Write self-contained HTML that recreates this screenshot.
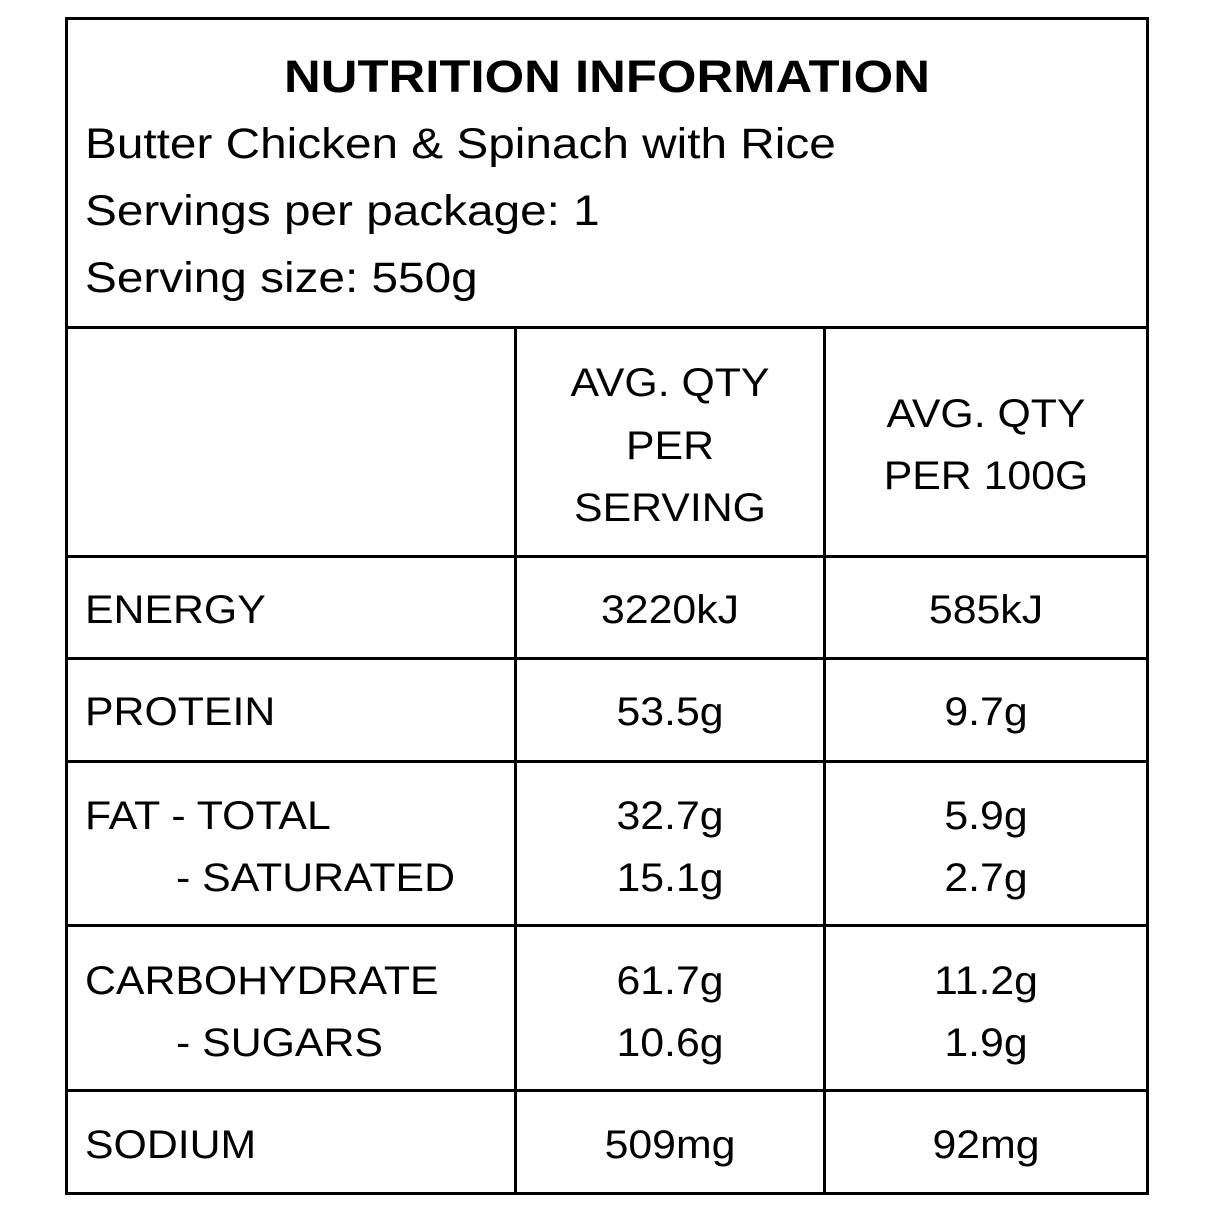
<!DOCTYPE html>
<html><head><style>
body{margin:0;width:1214px;height:1214px;background:#fff;position:relative;font-family:"Liberation Sans",sans-serif;color:#000;overflow:hidden}
.l{position:absolute;background:#000}
.t{position:absolute;white-space:nowrap;font-size:40px;line-height:1;transform-origin:0 0;transform:scaleX(1.07)}
.c{transform-origin:50% 0;transform:translateX(-50%) scaleX(1.07)}
.h{transform:scaleX(1.11)}
</style></head><body>
<div class="l" style="left:65px;top:17px;width:1084px;height:3px"></div>
<div class="l" style="left:65px;top:1192px;width:1084px;height:3px"></div>
<div class="l" style="left:65px;top:17px;width:3px;height:1178px"></div>
<div class="l" style="left:1146px;top:17px;width:3px;height:1178px"></div>
<div class="l" style="left:65px;top:326px;width:1084px;height:3px"></div>
<div class="l" style="left:65px;top:555px;width:1084px;height:3px"></div>
<div class="l" style="left:65px;top:657px;width:1084px;height:3px"></div>
<div class="l" style="left:65px;top:760px;width:1084px;height:3px"></div>
<div class="l" style="left:65px;top:924px;width:1084px;height:3px"></div>
<div class="l" style="left:65px;top:1089px;width:1084px;height:3px"></div>
<div class="l" style="left:514px;top:326px;width:3px;height:869px"></div>
<div class="l" style="left:823px;top:326px;width:3px;height:869px"></div>

<div class="t c" style="left:607px;top:54px;font-size:45px;font-weight:bold;transform:translateX(-50%) scaleX(1.13)">NUTRITION INFORMATION</div>
<div class="t h" style="left:85px;top:123px;font-size:43px">Butter Chicken &amp; Spinach with Rice</div>
<div class="t h" style="left:85px;top:190px;font-size:43px">Servings per package: 1</div>
<div class="t h" style="left:85px;top:257px;font-size:43px">Serving size: 550g</div>

<div class="t c" style="left:670px;top:363px">AVG. QTY</div>
<div class="t c" style="left:670px;top:426px">PER</div>
<div class="t c" style="left:670px;top:488px">SERVING</div>
<div class="t c" style="left:986px;top:394px">AVG. QTY</div>
<div class="t c" style="left:986px;top:456px">PER 100G</div>

<div class="t" style="left:85px;top:590px">ENERGY</div>
<div class="t c" style="left:670px;top:590px">3220kJ</div>
<div class="t c" style="left:986px;top:590px">585kJ</div>

<div class="t" style="left:85px;top:692px">PROTEIN</div>
<div class="t c" style="left:670px;top:692px">53.5g</div>
<div class="t c" style="left:986px;top:692px">9.7g</div>

<div class="t" style="left:85px;top:796px">FAT - TOTAL</div>
<div class="t" style="left:176px;top:858px">- SATURATED</div>
<div class="t c" style="left:670px;top:796px">32.7g</div>
<div class="t c" style="left:670px;top:858px">15.1g</div>
<div class="t c" style="left:986px;top:796px">5.9g</div>
<div class="t c" style="left:986px;top:858px">2.7g</div>

<div class="t" style="left:85px;top:961px">CARBOHYDRATE</div>
<div class="t" style="left:176px;top:1023px">- SUGARS</div>
<div class="t c" style="left:670px;top:961px">61.7g</div>
<div class="t c" style="left:670px;top:1023px">10.6g</div>
<div class="t c" style="left:986px;top:961px">11.2g</div>
<div class="t c" style="left:986px;top:1023px">1.9g</div>

<div class="t" style="left:85px;top:1125px">SODIUM</div>
<div class="t c" style="left:670px;top:1125px">509mg</div>
<div class="t c" style="left:986px;top:1125px">92mg</div>
</body></html>
